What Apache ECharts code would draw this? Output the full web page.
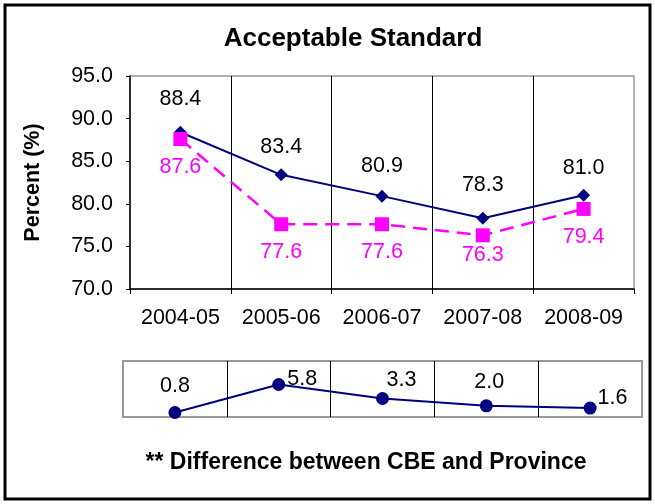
<!DOCTYPE html>
<html>
<head>
<meta charset="utf-8">
<script src="https://cdn.jsdelivr.net/npm/echarts@6/dist/echarts.min.js"></script>
<style>
html,body{margin:0;padding:0;background:#fff;}
#c{width:655px;height:504px;}
</style>
</head>
<body>
<div id="c"></div>
<script>
// ---- data ----
var categories = ['2004-05', '2005-06', '2006-07', '2007-08', '2008-09'];
var cbeValues = [88.4, 83.4, 80.9, 78.3, 81.0];
var provinceValues = [87.6, 77.6, 77.6, 76.3, 79.4];
var diffValues = [0.8, 5.8, 3.3, 2.0, 1.6];
var yTicks = { min: 70, max: 95, interval: 5 };
var titleText = 'Acceptable Standard';
var yAxisName = 'Percent (%)';
var footnote = '** Difference between CBE and Province';

// ---- label placement (style only) ----
var cbeLabelDist = [16, 10, 13, 16, 10];
var provLabelDist = [10, 10, 10, 2, 10];
var diffLabelStyle = [
  { position: 'top', distance: 9, offset: [0, 0] },
  { position: 'right', distance: 2, offset: [0, -5] },
  { position: 'top', distance: 1, offset: [19, 0] },
  { position: 'top', distance: 6, offset: [3, 0] },
  { position: 'right', distance: 1, offset: [0, -10] }
];

var FONT = "'Liberation Sans', Arial, sans-serif";
var FS = 21.5;

var chart = echarts.init(document.getElementById('c'), null, { renderer: 'canvas' });

function fmt(v) { return Number(v).toFixed(1); }

var option = {
  animation: false,
  backgroundColor: '#fff',
  textStyle: { fontFamily: FONT },
  grid: [
    { left: 130, top: 76, width: 504, height: 213, show: true, borderColor: '#999', borderWidth: 1.5, backgroundColor: 'transparent' },
    { left: 123, top: 361, width: 519, height: 56, show: true, borderColor: '#999', borderWidth: 2, backgroundColor: 'transparent' }
  ],
  xAxis: [
    {
      type: 'category', gridIndex: 0, data: categories, boundaryGap: true,
      axisLine: { show: true, lineStyle: { color: '#000', width: 1.5 } },
      axisTick: { show: true, interval: 0, length: 5, lineStyle: { color: '#000' } },
      axisLabel: { interval: 0, hideOverlap: false, fontSize: FS, color: '#000', margin: 18, fontFamily: FONT },
      splitLine: { show: true, interval: 0, showMinLine: false, showMaxLine: false, lineStyle: { color: '#000', width: 1 } }
    },
    {
      type: 'category', gridIndex: 1, data: categories, boundaryGap: true,
      axisLine: { show: false }, axisTick: { show: false, interval: 0 }, axisLabel: { show: false, interval: 0 },
      splitLine: { show: true, interval: 0, showMinLine: false, showMaxLine: false, lineStyle: { color: '#000', width: 1 } }
    }
  ],
  yAxis: [
    {
      type: 'value', gridIndex: 0, min: yTicks.min, max: yTicks.max, interval: yTicks.interval,
      name: yAxisName, nameLocation: 'middle', nameRotate: 90, nameGap: 86,
      nameTextStyle: { fontSize: 21.5, fontWeight: 'bold', color: '#000', fontFamily: FONT },
      axisLine: { show: true, lineStyle: { color: '#000', width: 1.5 } },
      axisTick: { show: true, length: 4, lineStyle: { color: '#000' } },
      axisLabel: { fontSize: FS, color: '#000', margin: 17, formatter: fmt, fontFamily: FONT },
      splitLine: { show: false }
    },
    {
      type: 'value', gridIndex: 1, min: 0, max: 10,
      axisLine: { show: false }, axisTick: { show: false }, axisLabel: { show: false },
      splitLine: { show: false }
    }
  ],
  series: [
    {
      name: 'CBE', type: 'line', xAxisIndex: 0, yAxisIndex: 0,
      data: cbeValues.map(function (v, i) {
        return { value: v, label: { distance: cbeLabelDist[i] } };
      }),
      symbol: 'diamond', symbolSize: 13,
      itemStyle: { color: '#000080' },
      lineStyle: { color: '#000080', width: 2 },
      label: { show: true, position: 'top', color: '#000', fontSize: FS, formatter: function (p) { return fmt(p.value); }, fontFamily: FONT },
      z: 3
    },
    {
      name: 'Province', type: 'line', xAxisIndex: 0, yAxisIndex: 0,
      data: provinceValues.map(function (v, i) {
        return { value: v, label: { distance: provLabelDist[i] } };
      }),
      symbol: 'rect', symbolSize: 14,
      itemStyle: { color: '#FF00FF' },
      lineStyle: { color: '#FF00FF', width: 2.5, type: [14, 8] },
      label: { show: true, position: 'bottom', color: '#FF00FF', fontSize: FS, formatter: function (p) { return fmt(p.value); }, fontFamily: FONT },
      z: 4
    },
    {
      name: 'Difference', type: 'line', xAxisIndex: 1, yAxisIndex: 1,
      data: diffValues.map(function (v, i) {
        return { value: v, label: diffLabelStyle[i] };
      }),
      symbol: 'circle', symbolSize: 13,
      itemStyle: { color: '#000080' },
      lineStyle: { color: '#000080', width: 2 },
      label: { show: true, color: '#000', fontSize: FS, formatter: function (p) { return fmt(p.value); }, fontFamily: FONT },
      z: 3
    }
  ],
  graphic: [
    {
      type: 'rect', shape: { x: 5, y: 5, width: 645, height: 494 },
      style: { fill: 'none', stroke: '#000', lineWidth: 3 }, z: 100, silent: true
    },
    {
      type: 'text', x: 353, y: 39,
      style: { text: titleText, font: 'bold 26px ' + FONT, fill: '#000', textAlign: 'center', textVerticalAlign: 'middle' }
    },
    {
      type: 'text', x: 366, y: 463,
      style: { text: footnote, font: 'bold 23px ' + FONT, fill: '#000', textAlign: 'center', textVerticalAlign: 'middle' }
    }
  ]
};

chart.setOption(option);
</script>
</body>
</html>
